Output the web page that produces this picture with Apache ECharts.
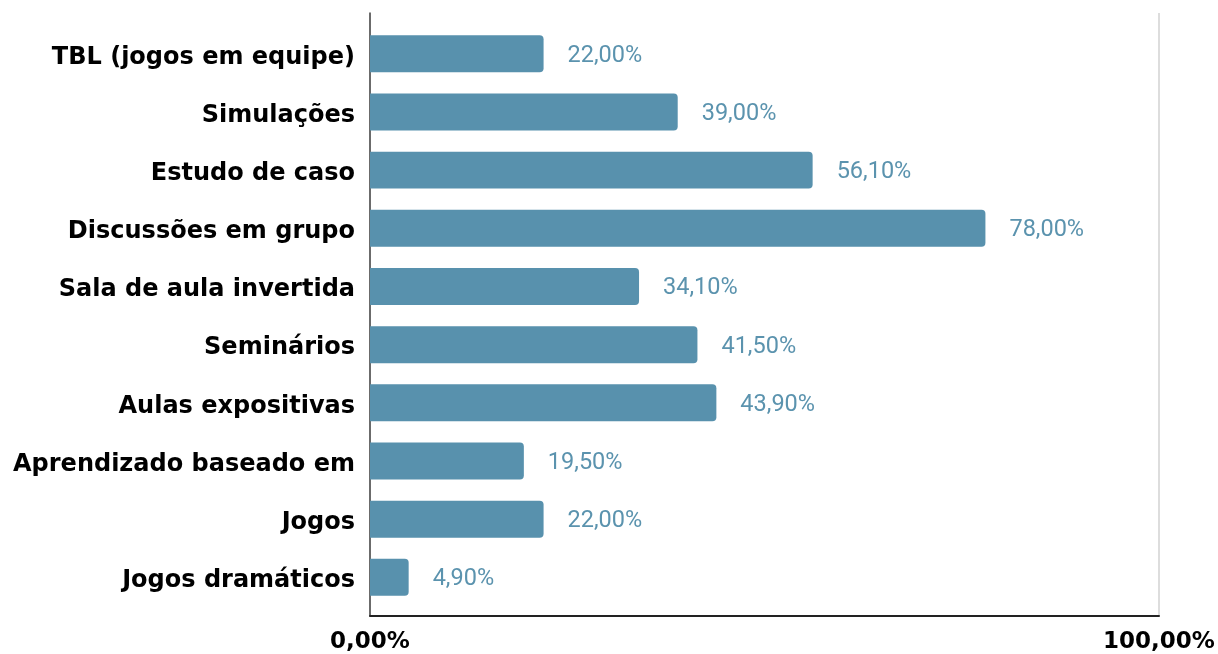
<!DOCTYPE html>
<html>
<head>
<meta charset="utf-8">
<script src="https://cdn.jsdelivr.net/npm/echarts@6/dist/echarts.min.js"></script>
<style>html,body{margin:0;padding:0;background:#fff}#c{width:1218px;height:654px}</style>
</head>
<body>
<div id="c"></div>
<script>
const categories = [
  'TBL (jogos em equipe)',
  'Simulações',
  'Estudo de caso',
  'Discussões em grupo',
  'Sala de aula invertida',
  'Seminários',
  'Aulas expositivas',
  'Aprendizado baseado em',
  'Jogos',
  'Jogos dramáticos'
];
const values = [22.0, 39.0, 56.1, 78.0, 34.1, 41.5, 43.9, 19.5, 22.0, 4.9];
const xMin = 0, xMax = 100;

const fmt = v => v.toFixed(2).replace('.', ',') + '%';
const barColor = '#5891ad';
const labelFont = {fontFamily: 'DejaVu Sans', fontWeight: 'bold', color: '#000'};

const chart = echarts.init(document.getElementById('c'), null, {renderer: 'canvas'});
chart.setOption({
  animation: false,
  backgroundColor: '#fff',
  grid: [
    {left: 370, right: 59, top: 13, bottom: 38},
    {left: 370, right: 59, top: 24.7, bottom: 47.6}
  ],
  xAxis: [
    {
      gridIndex: 0, type: 'value', min: xMin, max: xMax, interval: 100,
      axisLine: {show: true, lineStyle: {color: '#222', width: 2}},
      axisTick: {show: false},
      splitLine: {show: true, lineStyle: {color: '#d2d2d2', width: 1.5}},
      axisLabel: Object.assign({margin: 15, fontSize: 23, formatter: v => fmt(v)}, labelFont)
    },
    {gridIndex: 1, type: 'value', min: xMin, max: xMax, show: false}
  ],
  yAxis: [
    {
      gridIndex: 0, type: 'value', min: 0, max: 1,
      axisLine: {show: true, onZero: false, lineStyle: {color: '#444', width: 1.5}},
      axisTick: {show: false}, axisLabel: {show: false}, splitLine: {show: false}
    },
    {
      gridIndex: 1, type: 'category', data: categories, inverse: true,
      axisLine: {show: false}, axisTick: {show: false}, splitLine: {show: false},
      axisLabel: Object.assign({
        margin: 15, fontSize: 24,
        formatter: v => '{t|' + v + '}',
        rich: {t: {fontFamily: 'DejaVu Sans', fontWeight: 'bold', fontSize: 24, color: '#000', padding: [7, 0, 0, 0]}}
      }, labelFont)
    }
  ],
  series: [{
    type: 'bar',
    xAxisIndex: 1, yAxisIndex: 1,
    data: values,
    barCategoryGap: '36.4%',
    itemStyle: {color: barColor, borderRadius: [0, 4, 4, 0]},
    label: {
      show: true, position: 'right', distance: 24, offset: [0, 2],
      formatter: p => fmt(p.value),
      fontFamily: 'Roboto', fontSize: 23.5, color: '#5b93ae'
    }
  }]
});
</script>
</body>
</html>
